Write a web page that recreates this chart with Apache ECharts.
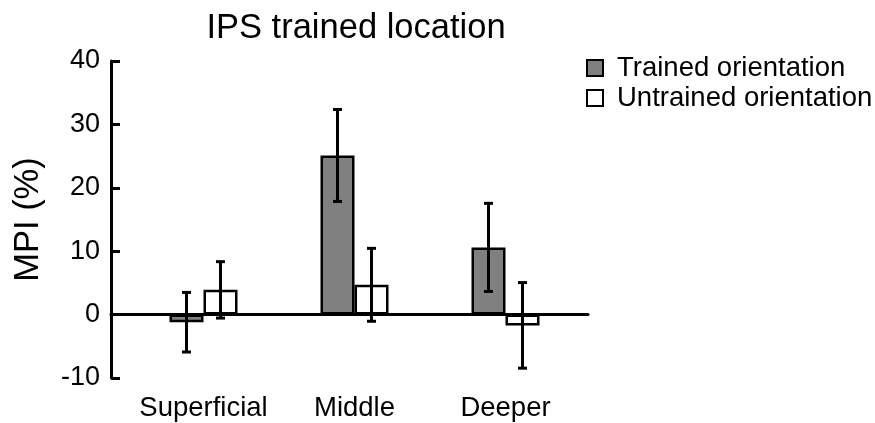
<!DOCTYPE html>
<html>
<head>
<meta charset="utf-8">
<script src="https://cdn.jsdelivr.net/npm/echarts@6/dist/echarts.min.js"></script>
<style>html,body{margin:0;padding:0;background:#fff;}#c{width:875px;height:423px;}</style>
</head>
<body>
<div id="c"></div>
<script>
const categories = ['Superficial', 'Middle', 'Deeper'];
const seriesNames = ['Trained orientation', 'Untrained orientation'];
const trained = [-1.2, 25.1, 10.6];
const trainedErr = [4.7, 7.25, 6.95];
const untrained = [3.9, 4.7, -1.7];
const untrainedErr = [4.45, 5.75, 6.75];
const yMin = -10, yMax = 40, yStep = 10;

const FONT = '"Liberation Sans", Arial, sans-serif';
const BAR_W = 34;

function errSeries(vals, errs, offset) {
  return {
    type: 'custom',
    xAxisIndex: 0, yAxisIndex: 0,
    z: 5,
    silent: true,
    data: vals.map((v, i) => [i, v, errs[i]]),
    renderItem: function (params, api) {
      const i = api.value(0), v = api.value(1), e = api.value(2);
      const x = api.coord([i, v])[0] + offset;
      const yHi = api.coord([i, v + e])[1];
      const yLo = api.coord([i, v - e])[1];
      const cap = 4.5;
      const st = { stroke: '#000', lineWidth: 3 };
      return {
        type: 'group',
        children: [
          { type: 'line', shape: { x1: x, y1: yHi, x2: x, y2: yLo }, style: st },
          { type: 'line', shape: { x1: x - cap, y1: yHi, x2: x + cap, y2: yHi }, style: st },
          { type: 'line', shape: { x1: x - cap, y1: yLo, x2: x + cap, y2: yLo }, style: st }
        ]
      };
    }
  };
}

const chart = echarts.init(document.getElementById('c'));
chart.setOption({
  backgroundColor: '#fff',
  animation: false,
  textStyle: { fontFamily: FONT, color: '#000' },
  title: {
    text: 'IPS trained location',
    left: 351, top: 6, textAlign: 'center',
    textStyle: { fontFamily: FONT, fontSize: 34.5, fontWeight: 'normal', color: '#000' }
  },
  legend: {
    data: seriesNames,
    orient: 'vertical',
    left: 581, top: 49,
    itemWidth: 16, itemHeight: 16, itemGap: 2,
    icon: 'rect',
    textStyle: { fontFamily: FONT, fontSize: 27.5, color: '#000', padding: [0, 0, 0, 9] }
  },
  grid: [
    { left: 128, right: 294, top: 61, bottom: 45 },
    { left: 111, right: 287, top: 61, bottom: 45 }
  ],
  xAxis: [
    {
      type: 'category', gridIndex: 0, data: categories,
      axisLine: { show: false, onZero: false },
      axisTick: { show: false },
      axisLabel: { fontFamily: FONT, fontSize: 27.5, color: '#000', margin: 16, interval: 0 },
      splitLine: { show: false }
    },
    {
      type: 'value', gridIndex: 1, min: 0, max: 1,
      axisLine: { show: true, onZero: true, lineStyle: { color: '#000', width: 3 } },
      axisTick: { show: false }, axisLabel: { show: false }, splitLine: { show: false }
    }
  ],
  yAxis: [
    {
      type: 'value', gridIndex: 0, min: yMin, max: yMax, interval: yStep,
      show: false, splitLine: { show: false }
    },
    {
      type: 'value', gridIndex: 1, min: yMin, max: yMax, interval: yStep,
      name: 'MPI (%)', nameLocation: 'middle', nameGap: 65,
      nameTextStyle: { fontFamily: FONT, fontSize: 34.5, color: '#000' },
      axisLine: { show: true, lineStyle: { color: '#000', width: 3 } },
      axisTick: { show: true, inside: true, length: 9, lineStyle: { color: '#000', width: 3 } },
      axisLabel: { fontFamily: FONT, fontSize: 27, color: '#000', margin: 11 },
      splitLine: { show: false }
    }
  ],
  series: [
    {
      name: seriesNames[0], type: 'bar', xAxisIndex: 0, yAxisIndex: 0,
      data: trained, barWidth: BAR_W, barGap: '0%',
      itemStyle: { color: '#808080', borderColor: '#000', borderWidth: 2.5 }
    },
    {
      name: seriesNames[1], type: 'bar', xAxisIndex: 0, yAxisIndex: 0,
      data: untrained, barWidth: BAR_W, barGap: '0%',
      itemStyle: { color: '#fff', borderColor: '#000', borderWidth: 2.5 }
    },
    errSeries(trained, trainedErr, -BAR_W / 2),
    errSeries(untrained, untrainedErr, BAR_W / 2)
  ]
});
</script>
</body>
</html>
